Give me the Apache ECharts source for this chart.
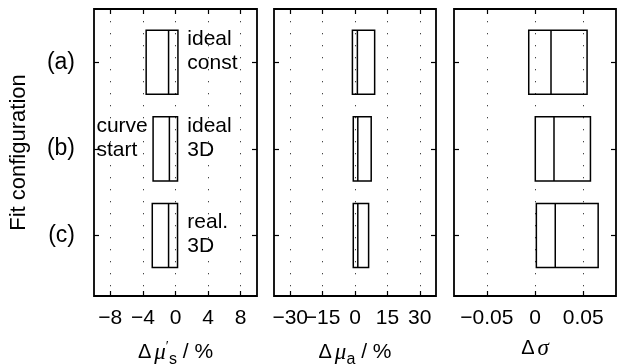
<!DOCTYPE html>
<html>
<head>
<meta charset="utf-8">
<script src="https://cdn.jsdelivr.net/npm/echarts@6/dist/echarts.min.js"></script>
<style>
  html, body { margin: 0; padding: 0; background: #fff; }
  #chart { width: 620px; height: 364px; }
</style>
</head>
<body>
<div id="chart"></div>
<script>
// Fit configurations (rows, top to bottom)
const configLabels = ['(a)', '(b)', '(c)'];
const configPos = [1, 2, 3];

// Relative error of reduced scattering coefficient, %: lower quartile, median, upper quartile
const muSLow = [-3.6, -2.75, -2.85];
const muSMed = [-0.85, -0.75, -0.85];
const muSHigh = [0.3, 0.25, 0.25];

// Relative error of absorption coefficient, %
const muALow = [-1.2, -0.8, -0.8];
const muAMed = [1.1, 1.3, 1.3];
const muAHigh = [9.1, 7.5, 6.3];

// Error of the width parameter sigma
const sigLow = [-0.0065, 0.0003, 0.0014];
const sigMed = [0.0166, 0.0197, 0.021];
const sigHigh = [0.054, 0.0575, 0.0655];

// Tick values for each panel
const muSTicks = [-8, -4, 0, 4, 8];
const muATicks = [-30, -15, 0, 15, 30];
const sigTicks = [-0.05, 0, 0.05];

// Text notes in the first panel
const noteText = ['ideal\nconst', 'ideal\n3D', 'real.\n3D', 'curve\nstart'];
const noteX = [1.45, 1.45, 1.45, -9.7];
const noteY = [0.875, 1.88, 2.99, 1.88];

const FONT = '"Liberation Sans", Arial, Helvetica, sans-serif';
const SERIF = '"Liberation Serif", "DejaVu Serif", serif';

const panels = [
  { left: 94, width: 163, min: -10, max: 10, ticks: muSTicks, low: muSLow, med: muSMed, high: muSHigh,
    name: '{g|Δ}{mu|μ}{pr|′}{sub|s}{t| / %}' },
  { left: 274, width: 162, min: -37.5, max: 37.5, ticks: muATicks, low: muALow, med: muAMed, high: muAHigh,
    name: '{g|Δ}{mu|μ}{sub|a}{t| / %}' },
  { left: 454, width: 162, min: -0.084, max: 0.084, ticks: sigTicks, low: sigLow, med: sigMed, high: sigHigh,
    name: '{g|Δ}{sg|σ}' }
];

const TOP = 9, HEIGHT = 287;
const BOX_HALF = 0.37;

const nameRich = {
  g: { fontFamily: FONT, fontSize: 20, color: '#000', padding: [0, 3, 0, 0] },
  mu: { fontFamily: SERIF, fontStyle: 'italic', fontSize: 23, color: '#000' },
  sg: { fontFamily: SERIF, fontStyle: 'italic', fontSize: 23, color: '#000' },
  pr: { fontFamily: SERIF, fontSize: 14, color: '#000', padding: [0, 0, 10, 0] },
  sub: { fontFamily: FONT, fontSize: 16, color: '#000', padding: [15, 0, 0, 0] },
  t: { fontFamily: FONT, fontSize: 21, color: '#000' }
};

const grids = [], xAxes = [], yAxes = [], series = [];
const tickStyle = { color: '#000', width: 1.2 };

panels.forEach((p, i) => {
  grids.push({ left: p.left, top: TOP, width: p.width, height: HEIGHT, show: true,
    outerBoundsMode: 'none', containLabel: false,
    borderColor: '#000', borderWidth: 1.8, backgroundColor: '#fff' });

  // label slots include blank end slots at the axis limits, so the real tick labels are all kept
  const labelSlots = [p.min].concat(p.ticks, [p.max]);
  const fmt = v => (v === p.min || v === p.max) ? '' : String(v).replace('-', '−');

  // bottom axis with labels and dotted grid
  xAxes.push({
    type: 'value', gridIndex: i, position: 'bottom', min: p.min, max: p.max,
    axisLine: { show: false, onZero: false },
    axisTick: { show: true, inside: true, length: 5, customValues: p.ticks, lineStyle: tickStyle },
    axisLabel: { show: true, customValues: labelSlots, margin: 12, hideOverlap: false,
      fontFamily: FONT, fontSize: 21, color: '#000', formatter: fmt },
    splitLine: { show: true, lineStyle: { color: '#444', width: 1, type: [1.3, 10.7] } },
    name: p.name, nameLocation: 'middle', nameGap: 41,
    nameTextStyle: { rich: nameRich }
  });

  // left axis with configuration labels (only the first one labelled)
  yAxes.push({
    type: 'value', gridIndex: i, position: 'left', inverse: true, min: 0.384, max: 3.70,
    axisLine: { show: false, onZero: false },
    axisTick: { show: true, inside: true, length: 5, customValues: configPos, lineStyle: tickStyle },
    axisLabel: { show: i === 0, customValues: configPos, margin: 19, fontFamily: FONT, fontSize: 23, color: '#000',
      formatter: v => configLabels[Math.round(v) - 1] },
    splitLine: { show: false },
    name: i === 0 ? 'Fit configuration' : '', nameLocation: 'middle', nameGap: 64, nameRotate: 90,
    nameTextStyle: { fontFamily: FONT, fontSize: 22, color: '#000' }
  });
});

// mirrored ticks on top and right edges
panels.forEach((p, i) => {
  xAxes.push({
    type: 'value', gridIndex: i, position: 'top', min: p.min, max: p.max,
    axisLine: { show: false, onZero: false },
    axisTick: { show: true, inside: true, length: 5, customValues: p.ticks, lineStyle: tickStyle },
    axisLabel: { show: false }, splitLine: { show: false }
  });
  yAxes.push({
    type: 'value', gridIndex: i, position: 'right', inverse: true, min: 0.384, max: 3.70,
    axisLine: { show: false, onZero: false },
    axisTick: { show: true, inside: true, length: 5, customValues: configPos, lineStyle: tickStyle },
    axisLabel: { show: false }, splitLine: { show: false }
  });
});

// boxes with median lines
panels.forEach((p, i) => {
  series.push({
    type: 'custom', xAxisIndex: i, yAxisIndex: i, silent: true, z: 5,
    data: configPos.map((y, k) => [y, p.low[k], p.med[k], p.high[k]]),
    encode: { x: [1, 2, 3], y: 0 },
    renderItem: (params, api) => {
      const y = api.value(0);
      const a = api.coord([api.value(1), y - BOX_HALF]);
      const m = api.coord([api.value(2), y]);
      const b = api.coord([api.value(3), y + BOX_HALF]);
      const style = { fill: null, stroke: '#000', lineWidth: 1.5 };
      return {
        type: 'group',
        children: [
          { type: 'rect', shape: { x: a[0], y: a[1], width: b[0] - a[0], height: b[1] - a[1] }, style: style },
          { type: 'line', shape: { x1: m[0], y1: a[1], x2: m[0], y2: b[1] }, style: style }
        ]
      };
    }
  });
});

// notes in the first panel
series.push({
  type: 'custom', xAxisIndex: 0, yAxisIndex: 0, silent: true, z: 6,
  data: noteX.map((x, k) => [x, noteY[k]]),
  encode: { x: 0, y: 1 },
  renderItem: (params, api) => {
    const pt = api.coord([api.value(0), api.value(1)]);
    return {
      type: 'text', x: pt[0], y: pt[1],
      style: { text: noteText[params.dataIndex], fontFamily: FONT, fontSize: 21, lineHeight: 24,
        fill: '#000', align: 'left', verticalAlign: 'middle' }
    };
  }
});

const chart = echarts.init(document.getElementById('chart'), null, { renderer: 'canvas' });
chart.setOption({
  animation: false,
  backgroundColor: '#fff',
  grid: grids,
  xAxis: xAxes,
  yAxis: yAxes,
  series: series
});
</script>
</body>
</html>
